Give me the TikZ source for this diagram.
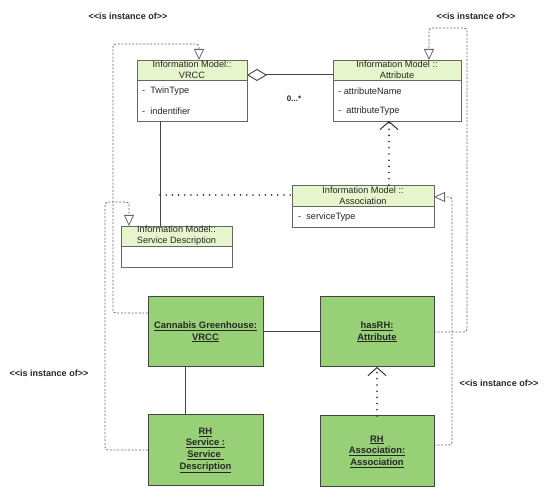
\documentclass[tikz,border=0pt]{standalone}
\usepackage{fontspec}
\setmainfont{Liberation Sans}
\usetikzlibrary{arrows.meta,calc}
\definecolor{hdr}{HTML}{E6F5CC}
\definecolor{grn}{HTML}{97D077}
\definecolor{ln}{HTML}{444444}
\definecolor{bd}{HTML}{666666}
\newcommand{\instof}{<\kern0pt<is instance of>\kern0pt>}
\begin{document}
\begin{tikzpicture}[x=1pt,y=-1pt,
  txt/.style={font=\fontsize{9.2}{11}\selectfont, text=black!85},
  clsbox/.style={draw=bd, line width=0.8pt, fill=white, anchor=north west, inner sep=0pt, outer sep=0pt},
  hdrbox/.style={clsbox, fill=hdr, txt, align=center},
  attrtxt/.style={txt, anchor=west, inner sep=0pt},
  gbox/.style={draw=ln, line width=1pt, fill=grn, anchor=north west, inner sep=0pt, outer sep=0pt,
    align=center, font=\bfseries\fontsize{9.4}{11.6}\selectfont, text=black!85},
  lbl/.style={font=\bfseries\fontsize{9}{11}\selectfont, text=black!85, inner sep=0pt},
  solidln/.style={draw=ln, line width=1pt},
  dotln/.style={draw=black!85, line width=1.8pt, line cap=round, dash pattern=on 0pt off 6.2pt},
  dashln/.style={draw=bd, line width=0.8pt, dash pattern=on 2pt off 1.6pt, rounded corners=3pt},
  vtip/.style={-{Straight Barb[length=8pt,width=18pt,line width=0.9pt]}},
  ttip/.style={-{Triangle[open,length=11pt,width=10pt,line width=0.8pt]}}
]
\useasboundingbox (0,0) rectangle (550,497);

% ---- classes ----
\node[clsbox, minimum width=110pt, minimum height=61pt] (vrcc) at (137,60) {};
\node[hdrbox, minimum width=110pt, minimum height=20pt] (vrccH) at (137,60) {Information Model::\\VRCC};
\node[attrtxt] (vrccA) at (142,91) {-\ \ TwinType};
\node[attrtxt] (vrccB) at (142,111) {-\ \ indentifier};

\node[clsbox, minimum width=128pt, minimum height=61pt] (attr) at (333,60) {};
\node[hdrbox, minimum width=128pt, minimum height=20pt] (attrH) at (333,60) {Information Model ::\\Attribute};
\node[attrtxt] (attrA) at (338,91) {- attributeName};
\node[attrtxt] (attrB) at (338,111) {-\ \ attributeType};

\node[clsbox, minimum width=142pt, minimum height=42pt] (assoc) at (292,185) {};
\node[hdrbox, minimum width=142pt, minimum height=21pt] (assocH) at (292,185) {Information Model ::\\Association};
\node[attrtxt] (assocA) at (298,217) {-\ \ serviceType};

\node[clsbox, minimum width=111pt, minimum height=41pt] (sd) at (121,226) {};
\node[hdrbox, minimum width=111pt, minimum height=20pt] (sdH) at (121,226) {Information Model::\\Service Description};

% ---- instances ----
\node[gbox, minimum width=115pt, minimum height=70pt] (cg) at (148,297) {\underline{Cannabis Greenhouse:}\\\underline{VRCC}};
\node[gbox, minimum width=114pt, minimum height=70pt] (hr) at (320,297) {\underline{hasRH:}\\\underline{Attribute}};
\node[gbox, minimum width=115pt, minimum height=71pt] (rhs) at (148,415) {\underline{RH}\\\underline{Service :}\\\underline{Service\ }\\\underline{Description}};
\node[gbox, minimum width=114pt, minimum height=71pt] (rha) at (320,416) {\underline{RH}\\\underline{Association:}\\\underline{Association}};

% ---- labels ----
\node[lbl] (l1) at (128,16) {\instof};
\node[lbl] (l2) at (476,16) {\instof};
\node[lbl] (l3) at (49,373) {\instof};
\node[lbl] (l4) at (499,383) {\instof};
\node[lbl, font=\bfseries\fontsize{8}{10}\selectfont] (mult) at (294,99) {0...*};

% ---- solid connectors ----
\draw[solidln, {Diamond[open,length=20pt,width=12pt,line width=0.9pt]}-] ($(vrcc.north east)+(0,15)$) -- ($(attr.north west)+(0,15)$);
\draw[solidln] ($(vrcc.south west)+(23,0)$) -- ($(sd.north west)+(39,0)$);
\draw[solidln] (cg.east) -- (hr.west);
\draw[solidln] ($(cg.south west)+(37,0)$) -- ($(rhs.north west)+(37,0)$);

% ---- dotted connectors ----
\coordinate (j1) at ($(vrcc.south west)+(23,74)$);
\draw[dotln] (j1) -- (j1 -| assoc.west);
\draw[dotln, vtip] ($(assoc.north west)+(97,0)$) -- ($(attr.south west)+(56,0)$);
\draw[dotln, vtip] ($(rha.north west)+(57,0)$) -- ($(hr.south west)+(57,0)$);

% ---- dashed instance-of loops ----
\draw[dashln, ttip] ($(cg.north west)+(0,16)$) -- (113,313) -- (113,44) -- (199,44) -- ($(vrcc.north west)+(62,0)$);
\draw[dashln, ttip] ($(rhs.north west)+(0,35)$) -- (105,450) -- (105,202) -- (129,202) -- ($(sd.north west)+(8,0)$);
\draw[dashln, ttip] ($(hr.north west)+(114,35)$) -- (467,332) -- (467,28) -- (429,28) -- ($(attr.north west)+(96,0)$);
\draw[dashln, ttip] ($(rha.north west)+(114,29)$) -- (452,445) -- (452,197) -- ($(assoc.north east)+(0,12)$);
\end{tikzpicture}
\end{document}
